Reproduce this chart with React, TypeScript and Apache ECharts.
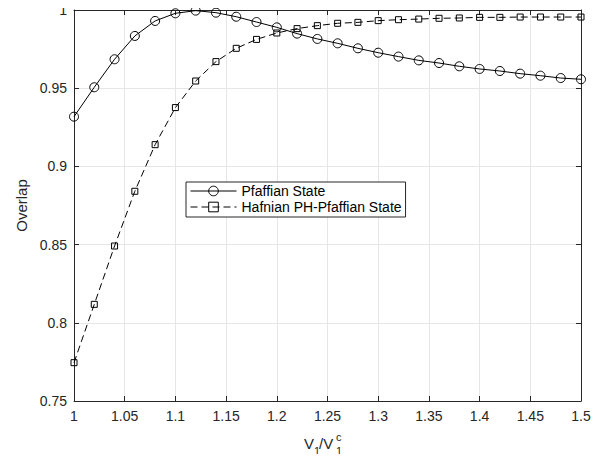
import React, { useEffect, useRef } from "react";
import * as echarts from "echarts";

const xValues = [
  1.0, 1.02, 1.04, 1.06, 1.08, 1.1, 1.12, 1.14, 1.16, 1.18, 1.2, 1.22, 1.24,
  1.26, 1.28, 1.3, 1.32, 1.34, 1.36, 1.38, 1.4, 1.42, 1.44, 1.46, 1.48, 1.5,
];
const pfaffian = [
  0.9318, 0.9506, 0.9685, 0.9834, 0.993, 0.9979, 0.9996, 0.9983, 0.9957,
  0.9923, 0.9889, 0.9849, 0.9815, 0.9787, 0.9755, 0.9727, 0.9702, 0.9678,
  0.9661, 0.964, 0.9623, 0.961, 0.9593, 0.958, 0.9565, 0.9557,
];
const hafnian = [
  0.7745, 0.8118, 0.8491, 0.8841, 0.9139, 0.9376, 0.9546, 0.967, 0.9755,
  0.9812, 0.9853, 0.9881, 0.99, 0.9915, 0.9921, 0.9932, 0.9938, 0.9942,
  0.9947, 0.9949, 0.9953, 0.9953, 0.9955, 0.9955, 0.9955, 0.9955,
];
const seriesNames = ["Pfaffian State", "Hafnian PH-Pfaffian State"];
const yLabel = "Overlap";

const FONT = "Liberation Sans, Arial, Helvetica, sans-serif";
const TXT = "#262626";

export default function App() {
  const ref = useRef<HTMLDivElement>(null);
  useEffect(() => {
    if (!ref.current) return;
    const chart = echarts.init(ref.current, null, { renderer: "svg" });
    const axisCommon = {
      type: "value",
      axisLine: { show: true, lineStyle: { color: "#262626", width: 1 } },
      axisTick: { show: true, inside: true, length: 5, lineStyle: { color: "#262626" } },
    };
    const xCommon = { ...axisCommon, min: 1, max: 1.5, interval: 0.05 };
    const yCommon = { ...axisCommon, min: 0.75, max: 1, interval: 0.05 };
    chart.setOption({
      animation: false,
      backgroundColor: "#ffffff",
      textStyle: { fontFamily: FONT },
      grid: { left: 74, right: 29, top: 10, bottom: 61, containLabel: false },
      legend: {
        left: 186,
        top: 182,
        orient: "vertical",
        backgroundColor: "#ffffff",
        borderColor: "#262626",
        borderWidth: 1,
        borderRadius: 0,
        padding: [2, 4, 3, 4],
        itemGap: 2,
        itemWidth: 46,
        itemHeight: 12,
        itemTextGap: 5,
        lineStyle: { width: 1 },
        itemStyle: { borderWidth: 1 },
        textStyle: { fontFamily: FONT, fontSize: 14, color: "#000" },
        data: seriesNames,
      },
      xAxis: [
        {
          ...xCommon,
          position: "bottom",
          axisLabel: {
            show: true,
            fontFamily: FONT,
            fontSize: 14,
            color: TXT,
            margin: 8,
            formatter: (v: number) => String(Math.round(v * 100) / 100),
          },
          splitLine: { show: true, lineStyle: { color: "#e6e6e6", width: 1 } },
        },
        {
          ...xCommon,
          position: "top",
          axisLabel: { show: false },
          splitLine: { show: false },
        },
      ],
      yAxis: [
        {
          ...yCommon,
          position: "left",
          name: yLabel,
          nameLocation: "middle",
          nameGap: 41,
          nameTextStyle: { fontFamily: FONT, fontSize: 15, color: TXT },
          axisLabel: {
            show: true,
            fontFamily: FONT,
            fontSize: 14,
            color: TXT,
            margin: 7,
            formatter: (v: number) => String(Math.round(v * 100) / 100),
          },
          splitLine: { show: true, lineStyle: { color: "#e6e6e6", width: 1 } },
        },
        {
          ...yCommon,
          position: "right",
          axisLabel: { show: false },
          splitLine: { show: false },
        },
      ],
      graphic: [
        {
          type: "group",
          left: 304,
          top: 431,
          children: [
            { type: "text", x: 0, y: 5, style: { text: "V", font: `15px ${FONT}`, fill: TXT } },
            { type: "text", x: 10, y: 14, style: { text: "1", font: `11px ${FONT}`, fill: TXT } },
            { type: "text", x: 15, y: 5, style: { text: "/V", font: `15px ${FONT}`, fill: TXT } },
            { type: "text", x: 32, y: 0, style: { text: "c", font: `11px ${FONT}`, fill: TXT } },
            { type: "text", x: 32, y: 14, style: { text: "1", font: `11px ${FONT}`, fill: TXT } },
          ],
        },
      ],
      series: [
        {
          name: seriesNames[0],
          type: "line",
          xAxisIndex: 0,
          yAxisIndex: 0,
          data: xValues.map((x, i) => [x, pfaffian[i]]),
          symbol: "circle",
          symbolSize: 9,
          showAllSymbol: true,
          lineStyle: { color: "#000", width: 1, type: "solid" },
          itemStyle: { color: "rgba(0,0,0,0)", borderColor: "#000", borderWidth: 1 },
          emphasis: { disabled: true },
          z: 3,
        },
        {
          name: seriesNames[1],
          type: "line",
          xAxisIndex: 0,
          yAxisIndex: 0,
          data: xValues.map((x, i) => [x, hafnian[i]]),
          symbol: "rect",
          symbolSize: 6,
          showAllSymbol: true,
          lineStyle: { color: "#000", width: 1, type: [7, 4] },
          itemStyle: { color: "rgba(0,0,0,0)", borderColor: "#000", borderWidth: 1 },
          emphasis: { disabled: true },
          z: 3,
        },
      ],
    });
    return () => chart.dispose();
  }, []);
  return <div ref={ref} style={{ width: 610, height: 462, margin: -8 }} />;
}
